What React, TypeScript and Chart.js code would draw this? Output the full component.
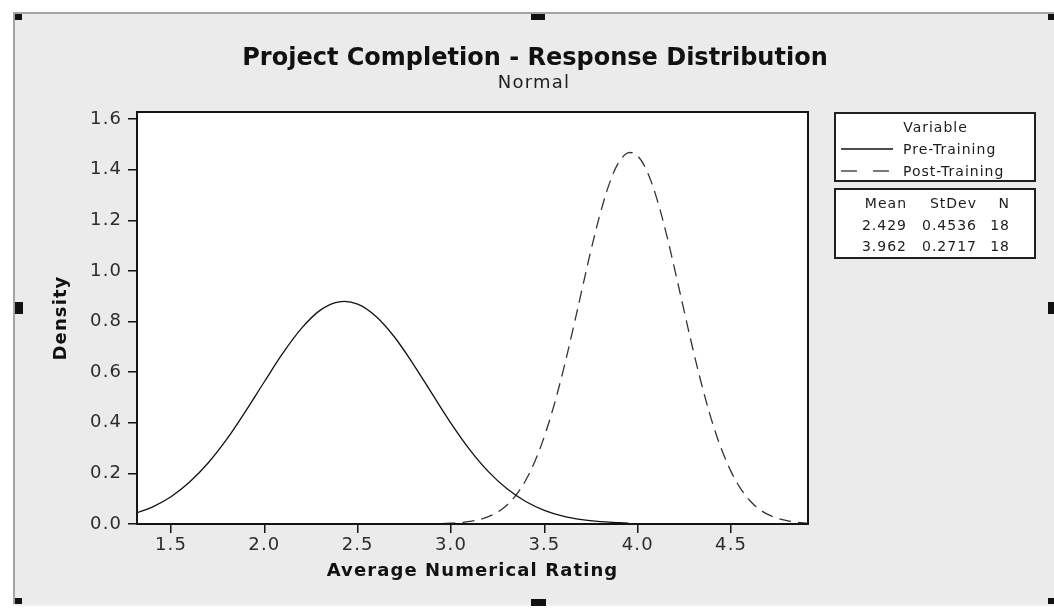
import { useEffect, useRef } from "react";
import { Chart, registerables } from "chart.js";

Chart.register(...registerables);

// ---- Chart text ----
const chartTitle = "Project Completion - Response Distribution";
const chartSubtitle = "Normal";
const xAxisTitle = "Average Numerical Rating";
const yAxisTitle = "Density";
const legendHeader = "Variable";
const seriesNames = ["Pre-Training", "Post-Training"];

// ---- Summary statistics per variable ----
const statHeaders = ["Mean", "StDev", "N"];
const seriesMeans = ["2.429", "3.962"];
const seriesStDevs = ["0.4536", "0.2717"];
const seriesCounts = ["18", "18"];

// ---- Axis ranges and ticks ----
const xRange = [1.318, 4.912];
const yRange = [0, 1.628];
const xTicks = [1.5, 2.0, 2.5, 3.0, 3.5, 4.0, 4.5];
const yTicks = [0, 0.2, 0.4, 0.6, 0.8, 1.0, 1.2, 1.4, 1.6];

// ---- Fitted density curves ----
const preX = [
  1.318, 1.4, 1.5, 1.6, 1.7, 1.8, 1.9, 2.0, 2.1, 2.2, 2.3, 2.4, 2.5, 2.6,
  2.7, 2.8, 2.9, 3.0, 3.1, 3.2, 3.3, 3.4, 3.5, 3.6, 3.7, 3.8, 3.9, 3.95,
];
const preDensity = [
  0.044, 0.067, 0.108, 0.166, 0.242, 0.336, 0.446, 0.562, 0.676, 0.774,
  0.845, 0.878, 0.869, 0.819, 0.736, 0.629, 0.513, 0.398, 0.294, 0.207,
  0.139, 0.089, 0.054, 0.031, 0.017, 0.009, 0.005, 0.003,
];
const postX = [
  2.96, 3.0, 3.05, 3.1, 3.15, 3.2, 3.25, 3.3, 3.35, 3.4, 3.45, 3.5, 3.55,
  3.6, 3.65, 3.7, 3.75, 3.8, 3.85, 3.9, 3.95, 4.0, 4.05, 4.1, 4.15, 4.2,
  4.25, 4.3, 4.35, 4.4, 4.45, 4.5, 4.55, 4.6, 4.65, 4.7, 4.75, 4.8, 4.85,
  4.912,
];
const postDensity = [
  0.002, 0.003, 0.005, 0.01, 0.017, 0.029, 0.047, 0.075, 0.116, 0.173,
  0.249, 0.346, 0.465, 0.604, 0.759, 0.922, 1.083, 1.229, 1.349, 1.431,
  1.467, 1.454, 1.393, 1.291, 1.156, 1.0, 0.837, 0.677, 0.53, 0.4, 0.293,
  0.207, 0.141, 0.093, 0.059, 0.037, 0.022, 0.013, 0.007, 0.003,
];

const FONT = "'DejaVu Sans', Verdana, sans-serif";
const INK = "#141414";

// Grey graph panel with selection handles, white data region, legend and titles.
const panelPlugin = {
  id: "panel",
  beforeDraw(chart: Chart) {
    const { ctx, chartArea: a } = chart;
    ctx.save();
    ctx.fillStyle = "#ffffff";
    ctx.fillRect(0, 0, chart.width, chart.height);
    ctx.fillStyle = "#ebebeb";
    ctx.fillRect(15, 14, chart.width - 15, 590);
    ctx.fillStyle = "#a4a4a4";
    ctx.fillRect(13, 12, 2, 592);
    ctx.fillRect(13, 12, chart.width - 13, 2);
    ctx.fillStyle = "#f1f1f1";
    ctx.fillRect(13, 604, chart.width - 13, 2);
    ctx.fillStyle = "#111111";
    const handles = [
      [15, 14, 7, 6], [531, 14, 14, 6], [1048, 14, 6, 6],
      [15, 302, 8, 12], [1048, 302, 6, 12],
      [15, 598, 7, 6], [531, 599, 15, 7], [1048, 598, 6, 6],
    ];
    handles.forEach(([x, y, w, h]) => ctx.fillRect(x, y, w, h));
    ctx.fillStyle = "#ffffff";
    ctx.fillRect(a.left, a.top, a.right - a.left, a.bottom - a.top);
    ctx.restore();
    (ctx as any).letterSpacing = "1.1px";
  },
  afterDatasetsDraw(chart: Chart) {
    const { ctx, chartArea: a } = chart;
    ctx.save();
    ctx.strokeStyle = INK;
    ctx.lineWidth = 2;
    ctx.strokeRect(a.left, a.top, a.right - a.left, a.bottom - a.top);
    ctx.restore();
  },
  afterDraw(chart: Chart) {
    const { ctx } = chart;
    ctx.save();
    const c = ctx as any;

    // Title and subtitle
    c.letterSpacing = "0px";
    ctx.fillStyle = "#111111";
    ctx.textAlign = "center";
    ctx.textBaseline = "alphabetic";
    ctx.font = `bold 24px ${FONT}`;
    ctx.fillText(chartTitle, 535, 65);
    c.letterSpacing = "1.2px";
    ctx.font = `18px ${FONT}`;
    ctx.fillStyle = "#222222";
    ctx.fillText(chartSubtitle, 534, 88);

    // Legend box
    ctx.fillStyle = "#ffffff";
    ctx.fillRect(835, 113, 200, 68);
    ctx.fillRect(835, 189, 200, 69);
    ctx.strokeStyle = "#202020";
    ctx.lineWidth = 2;
    ctx.strokeRect(835, 113, 200, 68);
    ctx.strokeRect(835, 189, 200, 69);

    c.letterSpacing = "1px";
    ctx.font = `14px ${FONT}`;
    ctx.fillStyle = "#1c1c1c";
    ctx.textAlign = "center";
    ctx.fillText(legendHeader, 935.5, 132);

    ctx.textAlign = "left";
    const rowsY = [154, 176];
    const dashes = [[], [16, 16]];
    seriesNames.forEach((name, i) => {
      ctx.beginPath();
      ctx.setLineDash(dashes[i]);
      ctx.lineWidth = 1.3;
      ctx.strokeStyle = i === 0 ? "#111111" : "#333333";
      ctx.moveTo(841, rowsY[i] - 5);
      ctx.lineTo(i === 0 ? 893 : 890, rowsY[i] - 5);
      ctx.stroke();
      ctx.setLineDash([]);
      ctx.fillText(name, 903, rowsY[i]);
    });

    // Statistics table
    ctx.textAlign = "right";
    const colX = [907, 977, 1010];
    statHeaders.forEach((h, j) => ctx.fillText(h, colX[j], 208));
    const statRowsY = [230, 251];
    seriesNames.forEach((_, i) => {
      const row = [seriesMeans[i], seriesStDevs[i], seriesCounts[i]];
      row.forEach((v, j) => ctx.fillText(v, colX[j], statRowsY[i]));
    });
    ctx.restore();
  },
};

export default function App() {
  const canvasRef = useRef<HTMLCanvasElement>(null);

  useEffect(() => {
    if (!canvasRef.current) return;
    const tickFont = { family: FONT, size: 18 };
    const titleFont = { family: FONT, size: 18, weight: "bold" as const };

    const chart = new Chart(canvasRef.current, {
      type: "line",
      data: {
        datasets: [
          {
            label: seriesNames[0],
            data: preX.map((x, i) => ({ x, y: preDensity[i] })),
            borderColor: "#111111",
            borderWidth: 1.3,
            pointRadius: 0,
            tension: 0.35,
            fill: false,
          },
          {
            label: seriesNames[1],
            data: postX.map((x, i) => ({ x, y: postDensity[i] })),
            borderColor: "#333333",
            borderWidth: 1.3,
            borderDash: [12, 7],
            pointRadius: 0,
            tension: 0.35,
            fill: false,
          },
        ],
      },
      options: {
        responsive: false,
        devicePixelRatio: 1,
        animation: false,
        events: [],
        layout: { padding: { left: 0, top: 112, right: 246, bottom: 0 } },
        plugins: {
          legend: { display: false },
          title: { display: false },
          tooltip: { enabled: false },
        },
        scales: {
          x: {
            type: "linear",
            min: xRange[0],
            max: xRange[1],
            afterBuildTicks: (s: any) => {
              s.ticks = xTicks.map((value) => ({ value }));
            },
            afterFit: (s: any) => {
              s.height = 86;
            },
            ticks: {
              autoSkip: false,
              maxRotation: 0,
              padding: 2,
              color: "#2c2c2c",
              font: tickFont,
              callback: (v: any) => Number(v).toFixed(1),
            },
            grid: {
              drawOnChartArea: false,
              drawTicks: true,
              tickLength: 9,
              color: INK,
              lineWidth: 1.5,
            },
            border: { display: false },
            title: {
              display: true,
              text: xAxisTitle,
              color: "#111111",
              font: titleFont,
              padding: { top: 0, bottom: 28 },
            },
          },
          y: {
            type: "linear",
            min: yRange[0],
            max: yRange[1],
            afterBuildTicks: (s: any) => {
              s.ticks = yTicks.map((value) => ({ value }));
            },
            afterFit: (s: any) => {
              s.width = 137;
            },
            ticks: {
              autoSkip: false,
              padding: 6,
              color: "#2c2c2c",
              font: tickFont,
              callback: (v: any) => Number(v).toFixed(1),
            },
            grid: {
              drawOnChartArea: false,
              drawTicks: true,
              tickLength: 9,
              color: INK,
              lineWidth: 1.5,
            },
            border: { display: false },
            title: {
              display: true,
              text: yAxisTitle,
              color: "#111111",
              font: titleFont,
              padding: { top: 51, bottom: 0 },
            },
          },
        },
      },
      plugins: [panelPlugin],
    });

    return () => chart.destroy();
  }, []);

  return (
    <div style={{ position: "fixed", left: 0, top: 0, width: 1054, height: 610 }}>
      <canvas
        ref={canvasRef}
        width={1054}
        height={610}
        style={{ display: "block", width: 1054, height: 610 }}
      />
    </div>
  );
}
